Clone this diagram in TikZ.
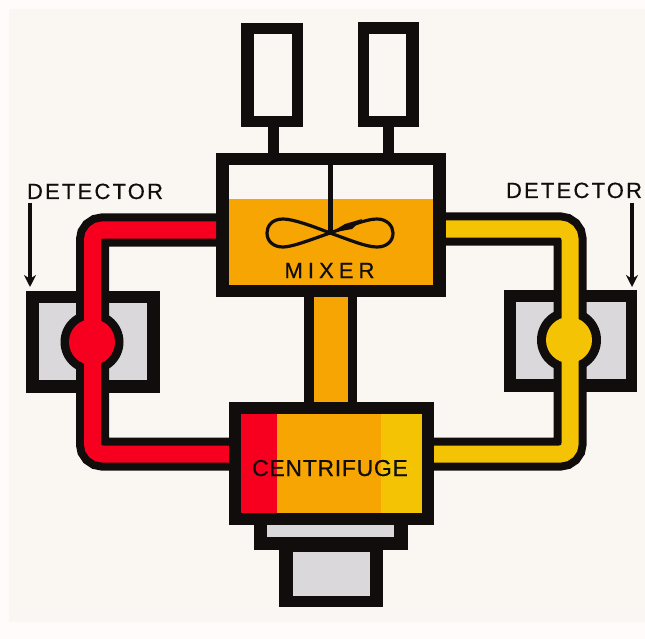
\documentclass[tikz,border=0pt]{standalone}
\usepackage{fontspec}
\setmainfont{Liberation Sans}
\newfontfamily\detectorfont[LetterSpace=10,FakeBold=0.5]{Liberation Sans}
\newfontfamily\mixerfont[LetterSpace=23,FakeBold=0.5]{Liberation Sans}
\newfontfamily\centrifont[LetterSpace=3,FakeBold=0.5]{Liberation Sans}
\usetikzlibrary{arrows.meta}
\definecolor{paper}{HTML}{FAF7F3}
\definecolor{margin}{HTML}{FEFBFA}
\definecolor{ink}{HTML}{100D0C}
\definecolor{orangefill}{HTML}{F6A503}
\definecolor{redfill}{HTML}{F7001F}
\definecolor{yellowfill}{HTML}{F3C304}
\definecolor{greyfill}{HTML}{DBD8DC}
\tikzset{
  block/.style={rectangle,inner sep=0pt,outer sep=0pt,fill=#1},
  pipeouter/.style={line width=33pt,draw=ink,rounded corners=10pt},
  pipeinner/.style={line width=17pt,draw=#1,rounded corners=10pt},
  bulb/.style={circle,inner sep=0pt,outer sep=0pt,fill=#1},
  pointer/.style={draw=ink,line width=3.4pt,-{Stealth[length=12pt,width=12pt]}},
  caption/.style={inner sep=0pt,outer sep=0pt,anchor=base,text=ink}
}
\newcommand{\rectnode}[6]{%
  \pgfmathsetmacro\rectw{#5-#3}%
  \pgfmathsetmacro\recth{#6-#4}%
  \node[block=#1,minimum width=\rectw pt,minimum height=\recth pt] (#2) at ({(#3+#5)/2},{(#4+#6)/2}) {};}
\begin{document}
\begin{tikzpicture}[x=1pt,y=-1pt]
\useasboundingbox (0,0) rectangle (645,639);
\fill[margin] (0,0) rectangle (645,639);
\fill[paper] (9,9) rectangle (645,622);
% feed tanks
\rectnode{ink}{tankL}{241}{23}{303}{127}
\rectnode{paper}{tankLin}{254}{34}{292}{116}
\rectnode{ink}{tankR}{358}{22}{419}{127}
\rectnode{paper}{tankRin}{369}{34}{406}{116}
\rectnode{ink}{stemL}{268}{127}{279}{155}
\rectnode{ink}{stemR}{383}{127}{394}{155}
% column
\rectnode{ink}{column}{304}{297}{357}{402}
\rectnode{orangefill}{columnin}{314}{297}{348}{402}
% detectors
\rectnode{ink}{detL}{26}{291}{160}{393}
\rectnode{greyfill}{detLin}{39}{303}{147}{380}
\rectnode{ink}{detR}{504}{290}{637}{392}
\rectnode{greyfill}{detRin}{516}{302}{626}{379}
\node[bulb=ink,minimum size=63pt] (bulbLo) at (92,342) {};
\node[bulb=ink,minimum size=64pt] (bulbRo) at (569,340) {};
% mixer and centrifuge bodies
\rectnode{ink}{mixer}{216}{153}{446}{297}
\rectnode{paper}{mixerin}{229}{165}{433}{285}
\rectnode{orangefill}{liquid}{229}{199}{433}{285}
\rectnode{ink}{centri}{229}{402}{434}{525}
\rectnode{orangefill}{centriin}{241}{414}{422}{513}
\rectnode{redfill}{bandR}{241}{414}{277}{513}
\rectnode{yellowfill}{bandY}{381}{414}{422}{513}
% base
\rectnode{ink}{base}{254}{525}{408}{550}
\rectnode{greyfill}{basein}{267}{525}{394}{537}
\rectnode{ink}{foot}{279}{550}{383}{607}
\rectnode{greyfill}{footin}{293}{552}{370}{596}
% pipes
\coordinate (lt) at (92.5,230);
\coordinate (lb) at (92.5,454);
\coordinate (rt) at (570,229);
\coordinate (rb) at (570,454);
\draw[pipeouter] (mixer.west |- lt) -- (lt) -- (lb) -- (centri.west |- lb);
\draw[pipeouter] (mixer.east |- rt) -- (rt) -- (rb) -- (centri.east |- rb);
\draw[pipeinner=redfill] (mixer.west |- lt) -- (lt) -- (lb) -- (centri.west |- lb);
\draw[pipeinner=yellowfill] (mixer.east |- rt) -- (rt) -- (rb) -- (centri.east |- rb);
\node[bulb=redfill,minimum size=46pt] (bulbL) at (92,342) {};
\node[bulb=yellowfill,minimum size=46pt] (bulbR) at (569,340) {};
% stirrer
\coordinate (hub) at (330,233);
\coordinate (shafttop) at (330,165);
\draw[ink,line width=5pt] (shafttop) -- (hub);
\draw[ink,line width=3.2pt,line join=round]
  (hub) .. controls (310,225) and (292,219) .. (283,219)
  .. controls (271,219) and (267,227) .. (267,233)
  .. controls (267,241) and (273,247) .. (283,247)
  .. controls (292,247) and (310,240) .. (hub)
  .. controls (350,226) and (366,219) .. (377,219)
  .. controls (387,219) and (393,226) .. (393,233)
  .. controls (393,241) and (387,247) .. (377,247)
  .. controls (366,247) and (350,240) .. (hub) -- cycle;
\fill[ink] (hub) -- (345,224) -- (362,219) -- (352,229) -- cycle;
% labels
\node[caption,font=\mixerfont\fontsize{22}{22}\selectfont] (mixerlabel) at (329.5,278) {MIXER};
\node[caption,font=\centrifont\fontsize{23}{23}\selectfont] (centrilabel) at (330,476) {CENTRIFUGE};
\node[caption,font=\detectorfont\fontsize{22}{22}\selectfont] (detLlabel) at (95,199) {DETECTOR};
\node[caption,font=\detectorfont\fontsize{22}{22}\selectfont] (detRlabel) at (574,198) {DETECTOR};
\coordinate (arrL) at (30,203);
\coordinate (arrR) at (632,203);
\draw[pointer,shorten >=4pt] (arrL) -- (arrL |- detL.north);
\draw[pointer,shorten >=3pt] (arrR) -- (arrR |- detR.north);
\end{tikzpicture}
\end{document}
